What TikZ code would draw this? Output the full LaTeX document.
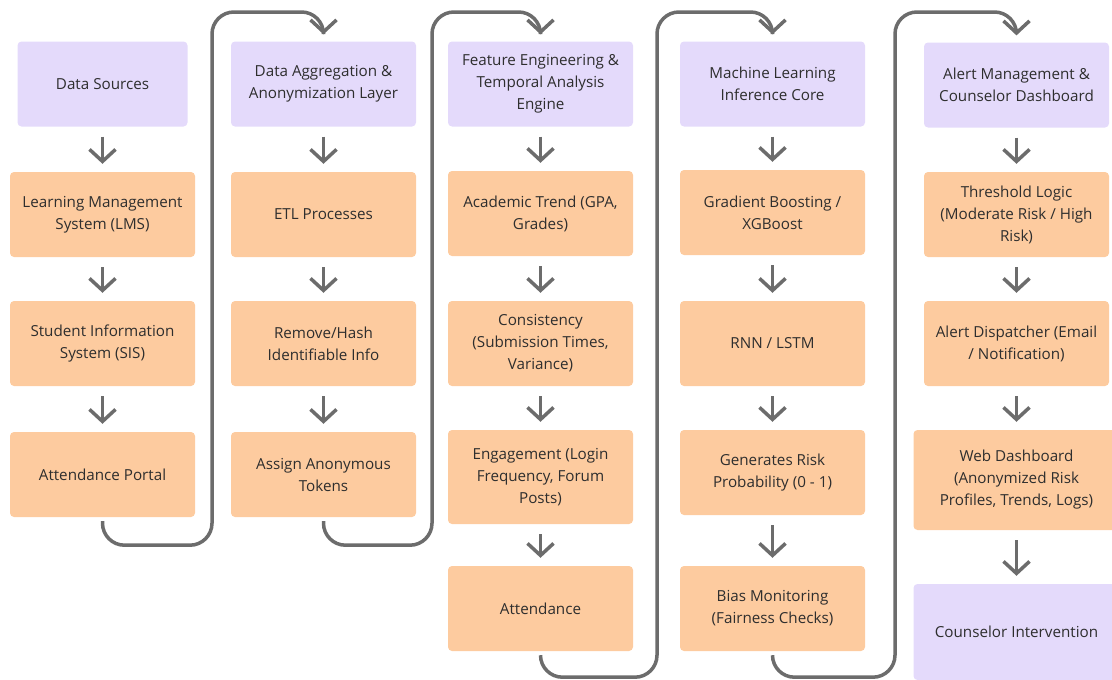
\documentclass[tikz,border=0pt]{standalone}
\usepackage{fontspec}
\setmainfont{Open Sans}
\usetikzlibrary{arrows.meta}
\definecolor{lavender}{HTML}{E4DAFB}
\definecolor{peach}{HTML}{FDCB9F}
\definecolor{linkgray}{HTML}{6C6C6C}
\definecolor{txtgray}{HTML}{2E2E2E}
\tikzstyle{box}=[rounded corners=4pt,align=center,inner sep=0pt,text=txtgray,
  minimum width=185pt,minimum height=85pt,font=\fontsize{15.2}{22}\selectfont]
\tikzstyle{stage}=[box,fill=lavender]
\tikzstyle{task}=[box,fill=peach]
\tikzstyle{flow}=[draw=linkgray,line width=3.5pt,-{Straight Barb[length=12pt,width=26pt]}]
\tikzstyle{link}=[flow,rounded corners=22pt,shorten <=4pt,shorten >=7pt]
\begin{document}
\begin{tikzpicture}[x=1pt,y=-1pt]
  \useasboundingbox (0,0) rectangle (1112,680);

  % stage headers
  \node[stage,minimum width=170pt] (hdA) at (102.5,84) {Data Sources};
  \foreach \pos/\name/\txt in {
    {(323.5,84)/hdB/{Data Aggregation \&\\ Anonymization Layer}},
    {(540.5,84)/hdC/{Feature Engineering \&\\ Temporal Analysis\\ Engine}},
    {(772.5,84)/hdD/{Machine Learning\\ Inference Core}},
    {(1016.5,85)/hdE/{Alert Management \&\\ Counselor Dashboard}}}
    \node[stage] (\name) at \pos {\txt};

  % task boxes
  \foreach \pos/\name/\txt in {
    {(102.5,214.5)/lms/{Learning Management\\ System (LMS)}},
    {(102.5,343.5)/sis/{Student Information\\ System (SIS)}},
    {(102.5,474.5)/portal/{Attendance Portal}},
    {(323.5,214.5)/etl/{ETL Processes}},
    {(323.5,343.5)/hash/{Remove/Hash\\ Identifiable Info}},
    {(323.5,474.5)/token/{Assign Anonymous\\ Tokens}},
    {(540.5,213.5)/trend/{Academic Trend (GPA,\\ Grades)}},
    {(540.5,343.5)/consist/{Consistency\\ (Submission Times,\\ Variance)}},
    {(540.5,608.5)/attend/{Attendance}},
    {(772.5,212.5)/boost/{Gradient Boosting /\\ XGBoost}},
    {(772.5,343.5)/rnn/{RNN / LSTM}},
    {(772.5,472.5)/prob/{Generates Risk\\ Probability (0 - 1)}},
    {(772.5,608.5)/bias/{Bias Monitoring\\ (Fairness Checks)}},
    {(1016.5,214.5)/thresh/{Threshold Logic\\ (Moderate Risk / High\\ Risk)}},
    {(1016.5,343.5)/dispatch/{Alert Dispatcher (Email\\ / Notification)}}}
    \node[task] (\name) at \pos {\txt};

  \node[task,minimum height=94pt] (engage) at (540.5,477) {Engagement (Login\\ Frequency, Forum\\ Posts)};
  \node[task,minimum width=206pt,minimum height=100pt] (web) at (1016.5,480) {Web Dashboard\\ (Anonymized Risk\\ Profiles, Trends, Logs)};
  \node[stage,minimum width=206pt,minimum height=96pt] (counsel) at (1016.5,632) {Counselor Intervention};

  % arrows inside the columns
  \foreach \a/\b in {hdA/lms,lms/sis,sis/portal,hdB/etl,etl/hash,hash/token,
    hdC/trend,trend/consist,consist/engage,engage/attend,
    hdD/boost,boost/rnn,rnn/prob,prob/bias,
    hdE/thresh,thresh/dispatch,dispatch/web,web/counsel}
    \draw[flow,shorten <=10pt,shorten >=8pt] (\a.south) -- (\b.north);

  % links from one column to the next
  \draw[link] (portal.south) -- ++(0,28) -| (212,12) -| (hdB.north);
  \draw[link] (token.south) -- ++(0,28) -| (432,12) -| (hdC.north);
  \draw[link] (attend.south) -- ++(0,26) -| (657,12) -| (hdD.north);
  \draw[link] (bias.south) -- ++(0,26) -| (895,12) -| (hdE.north);
\end{tikzpicture}
\end{document}
